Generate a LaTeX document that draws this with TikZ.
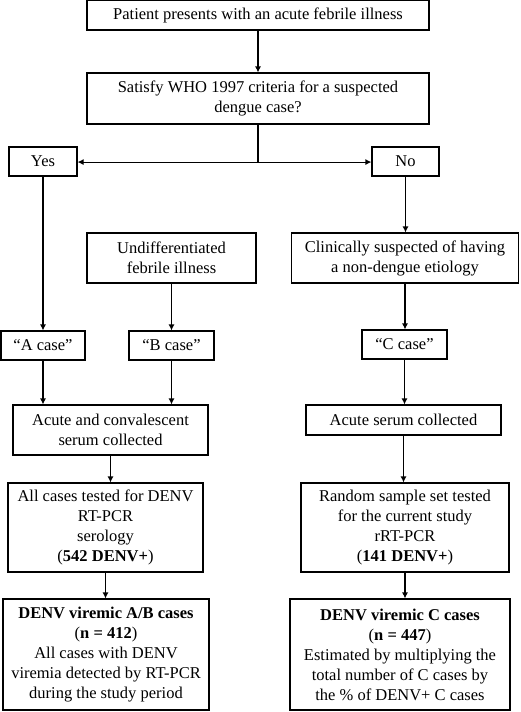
\documentclass[tikz,border=0pt]{standalone}
\usepackage{fontspec}
\setmainfont{Liberation Serif}
\usetikzlibrary{arrows.meta}
\begin{document}
\begin{tikzpicture}[x=1pt,y=-1pt,
  box/.style={draw,line width=1.1pt,align=center,inner sep=0pt,
    font=\fontsize{16.5}{20}\selectfont},
  arr/.style={line width=1.1pt,-{Latex[length=6pt,width=6pt]}},
  ln/.style={line width=1.1pt}]
\useasboundingbox (0,0) rectangle (520,712);
\node[box,minimum width=342pt,minimum height=30pt] (p1) at (258,15) {Patient presents with an acute febrile illness};
\node[box,minimum width=342pt,minimum height=51pt] (p2) at (258,98.5) {Satisfy WHO 1997 criteria for a suspected\\dengue case?};
\node[box,minimum width=68pt,minimum height=29pt] (yes) at (43,161.5) {Yes};
\node[box,minimum width=67pt,minimum height=29pt] (no) at (405.5,161.5) {No};
\node[box,minimum width=169pt,minimum height=50pt] (und) at (171.5,258) {Undifferentiated\\febrile illness};
\node[box,minimum width=227pt,minimum height=50pt] (cli) at (405,258) {Clinically suspected of having\\a non-dengue etiology};
\node[box,minimum width=84pt,minimum height=29pt] (acase) at (43,345.5) {“A case”};
\node[box,minimum width=85pt,minimum height=29pt] (bcase) at (171.5,345.5) {“B case”};
\node[box,minimum width=85pt,minimum height=29pt] (ccase) at (404.5,344.5) {“C case”};
\node[box,minimum width=195pt,minimum height=50pt] (acv) at (110.5,430) {Acute and convalescent\\serum collected};
\node[box,minimum width=195pt,minimum height=30pt] (asc) at (403.5,420) {Acute serum collected};
\node[box,minimum width=195pt,minimum height=89pt] (all) at (105.5,527.5) {All cases tested for DENV\\RT-PCR\\serology\\(\textbf{542 DENV+})};
\node[box,minimum width=208pt,minimum height=89pt] (rnd) at (405,527.5) {Random sample set tested\\for the current study\\rRT-PCR\\(\textbf{141 DENV+})};
\node[box,minimum width=206pt,minimum height=111pt] (dab) at (106,654.5) {\textbf{DENV viremic A/B cases}\\(\textbf{n = 412})\\All cases with DENV\\viremia detected by RT-PCR\\during the study period};
\node[box,minimum width=220pt,minimum height=111pt] (dc) at (400,654.5) {\textbf{DENV viremic C cases}\\(\textbf{n = 447})\\Estimated by multiplying the\\total number of C cases by\\the \% of DENV+ C cases};
\draw[arr] (p1) -- (p2);
\draw[ln] (p2.south) -- ++(0,37.5) coordinate (j);
\draw[arr] (j) -- (j -| yes.east);
\draw[arr] (j) -- (j -| no.west);
\draw[arr] (yes.south) -- (yes.south |- acase.north);
\draw[arr] (no.south) -- (no.south |- cli.north);
\draw[arr] (und.south) -- (und.south |- bcase.north);
\draw[arr] (cli.south) -- (cli.south |- ccase.north);
\draw[arr] (acase.south) -- (acase.south |- acv.north);
\draw[arr] (bcase.south) -- (bcase.south |- acv.north);
\draw[arr] (ccase.south) -- (ccase.south |- asc.north);
\draw[arr] (acv.south) -- (acv.south |- all.north);
\draw[arr] (asc.south) -- (asc.south |- rnd.north);
\draw[arr] (all.south) -- (all.south |- dab.north);
\draw[arr] (rnd.south) -- (rnd.south |- dc.north);
\end{tikzpicture}
\end{document}
